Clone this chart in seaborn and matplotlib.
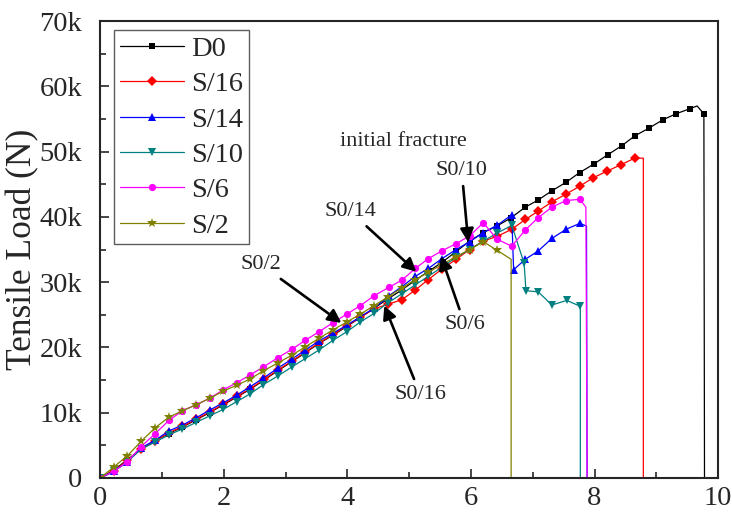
import numpy as np
import pandas as pd
import seaborn as sns
import matplotlib.pyplot as plt
from matplotlib.ticker import FuncFormatter, MultipleLocator

# Datos (desplazamiento, carga en kN)
x_d0 = [0, 0.22, 0.44, 0.66, 0.89, 1.11, 1.33, 1.55, 1.77, 1.99, 2.21, 2.43, 2.65, 2.87, 3.10, 3.32, 3.54, 3.77,
        3.99, 4.21, 4.43, 4.65, 4.88, 5.10, 5.32, 5.54, 5.76, 5.98, 6.20, 6.42, 6.64, 6.88, 7.09, 7.31, 7.54, 7.76,
        7.99, 8.21, 8.44, 8.65, 8.88, 9.11, 9.32, 9.55, 9.77, 9.78]
y_d0 = [0, 1.2, 2.8, 4.4, 5.7, 6.8, 7.8, 8.9, 10.0, 11.2, 12.4, 13.6, 15.0, 16.4, 17.8, 19.2, 20.6, 21.9,
        23.2, 24.6, 26.0, 27.4, 28.8, 30.3, 31.7, 33.1, 34.7, 36.3, 37.6, 38.6, 39.8, 41.5, 42.6, 44.0, 45.3, 46.8,
        48.1, 49.5, 50.9, 52.4, 53.6, 54.9, 55.8, 56.6, 55.8, 0]
pico_d0 = (9.66, 57.0)   # vertice sin marcador entre 9.55 y 9.77
x_d0.insert(-2, pico_d0[0])
y_d0.insert(-2, pico_d0[1])

x_s16 = [0, 0.22, 0.44, 0.66, 0.89, 1.11, 1.33, 1.55, 1.77, 1.99, 2.21, 2.43, 2.65, 2.87, 3.10, 3.32, 3.54, 3.77,
         3.99, 4.21, 4.43, 4.65, 4.88, 5.10, 5.31, 5.53, 5.76, 5.98, 6.20, 6.42, 6.66, 6.88, 7.09, 7.31, 7.54, 7.76,
         7.98, 8.20, 8.43, 8.65, 8.79, 8.79]
y_s16 = [0, 1.1, 2.7, 4.4, 5.7, 6.9, 7.9, 9.0, 10.1, 11.3, 12.5, 13.7, 15.1, 16.5, 17.9, 19.3, 20.7, 22.0,
         23.3, 24.6, 25.9, 26.6, 27.3, 28.8, 30.4, 32.0, 33.5, 35.0, 36.3, 37.0, 38.1, 39.6, 40.9, 42.3, 43.5, 44.7,
         46.0, 47.0, 48.0, 49.0, 49.0, 0]

x_s14 = [0, 0.22, 0.44, 0.66, 0.89, 1.11, 1.33, 1.55, 1.77, 1.99, 2.21, 2.43, 2.64, 2.87, 3.10, 3.32, 3.54, 3.77,
         3.99, 4.21, 4.43, 4.67, 4.88, 5.10, 5.31, 5.53, 5.76, 5.98, 6.20, 6.42, 6.66, 6.69, 6.88, 7.09, 7.31, 7.54,
         7.76, 7.87, 7.88]
y_s14 = [0, 1.0, 2.5, 4.6, 5.8, 7.2, 8.1, 9.2, 10.4, 11.5, 12.7, 14.0, 15.3, 16.8, 18.2, 19.6, 21.0, 22.2,
         23.4, 24.7, 26.0, 27.9, 29.3, 30.9, 32.1, 33.6, 35.0, 36.2, 37.6, 38.7, 40.3, 31.9, 33.5, 34.8, 36.7, 38.1,
         39.0, 38.6, 0]

x_s10 = [0, 0.22, 0.44, 0.66, 0.89, 1.11, 1.33, 1.55, 1.77, 1.99, 2.21, 2.43, 2.64, 2.87, 3.10, 3.32, 3.54, 3.77,
         3.99, 4.21, 4.43, 4.65, 4.88, 5.10, 5.31, 5.53, 5.76, 5.98, 6.20, 6.42, 6.66, 6.86, 6.89, 7.09, 7.31, 7.55,
         7.77, 7.77]
y_s10 = [0, 1.0, 2.5, 4.4, 5.5, 6.6, 7.5, 8.5, 9.5, 10.5, 11.7, 12.9, 14.3, 15.6, 17.0, 18.3, 19.6, 21.1,
         22.4, 23.9, 25.2, 26.8, 28.2, 29.6, 30.9, 32.3, 33.8, 35.0, 36.3, 37.5, 38.7, 32.9, 28.7, 28.5, 26.5, 27.2,
         26.3, 0]

x_s6 = [0, 0.22, 0.44, 0.66, 0.89, 1.11, 1.33, 1.55, 1.77, 1.99, 2.21, 2.43, 2.64, 2.87, 3.10, 3.32, 3.54, 3.77,
        3.99, 4.21, 4.43, 4.67, 4.88, 5.10, 5.31, 5.53, 5.76, 5.98, 6.20, 6.42, 6.66, 6.88, 7.09, 7.31, 7.54, 7.76,
        7.86, 7.88]
y_s6 = [0, 1.0, 2.5, 4.8, 6.8, 8.8, 10.3, 11.2, 12.2, 13.5, 14.6, 15.8, 17.0, 18.4, 19.7, 21.1, 22.4, 23.8,
        25.1, 26.4, 27.9, 29.2, 30.3, 32.1, 33.6, 34.8, 35.9, 37.1, 39.1, 36.6, 35.5, 38.0, 39.9, 41.5, 42.5, 42.7,
        41.5, 0]

x_s2 = [0, 0.22, 0.44, 0.66, 0.89, 1.11, 1.33, 1.55, 1.77, 1.99, 2.21, 2.43, 2.64, 2.87, 3.10, 3.32, 3.54, 3.77,
        3.99, 4.21, 4.43, 4.65, 4.88, 5.10, 5.31, 5.53, 5.76, 5.98, 6.20, 6.42, 6.65, 6.65]
y_s2 = [0, 1.7, 3.4, 5.6, 7.7, 9.3, 10.3, 11.2, 12.2, 13.3, 14.2, 15.2, 16.4, 17.6, 18.8, 20.1, 21.4, 22.7,
        23.9, 25.1, 26.4, 27.7, 29.1, 30.4, 31.5, 32.7, 33.9, 35.0, 36.2, 34.9, 33.5, 0]

series = ['D0', 'S/16', 'S/14', 'S/10', 'S/6', 'S/2']
xs = [x_d0, x_s16, x_s14, x_s10, x_s6, x_s2]
ys = [y_d0, y_s16, y_s14, y_s10, y_s6, y_s2]
colores = ['black', '#ff0000', '#0000ff', '#008080', '#ff00ff', '#808000']
marcadores = ['s', 'D', '^', 'v', 'o', '*']
tamanos = [4.6, 4.6, 5.6, 5.6, 5.2, 7]
sin_marca = [1, 2, 2, 1, 2, 2]   # puntos finales (caida) sin marcador

sns.set_theme(style='ticks')
plt.rcParams['font.family'] = ['Liberation Serif', 'DejaVu Serif']

fig, ax = plt.subplots(figsize=(7.32, 5.15), dpi=100)
fig.subplots_adjust(left=0.137, right=0.981, bottom=0.072, top=0.959)

for nombre, x, y, c, m, ms, k in zip(series, xs, ys, colores, marcadores, tamanos, sin_marca):
    df = pd.DataFrame({'x': x, 'y': np.array(y) * 1000})
    idx = [i for i in range(len(x) - k) if not (nombre == 'D0' and x[i] == pico_d0[0])]
    sns.lineplot(data=df, x='x', y='y', ax=ax, sort=False, estimator=None, color=c, lw=0.9,
                 marker=m, markersize=ms, markeredgewidth=0, markevery=idx, label=nombre)

ax.set_xlim(0, 10)
ax.set_ylim(0, 70000)
ax.xaxis.set_major_locator(MultipleLocator(2))
ax.xaxis.set_minor_locator(MultipleLocator(1))
ax.yaxis.set_major_locator(MultipleLocator(10000))
ax.yaxis.set_minor_locator(MultipleLocator(5000))
ax.yaxis.set_major_formatter(FuncFormatter(lambda v, p: '0' if v == 0 else '%dk' % (v / 1000)))
ax.tick_params(which='major', direction='in', length=6.5, width=1.2, labelsize=20.5)
ax.tick_params(which='minor', direction='in', length=4.5, width=1.2)
ax.tick_params(axis='y', which='major', pad=13)
ax.tick_params(axis='x', which='major', pad=6)
for s in ax.spines.values():
    s.set_linewidth(1.5)
ax.set_xlabel('')
ax.set_ylabel('Tensile Load (N)', fontsize=25.5, labelpad=0)

leg = ax.legend(loc='upper left', fontsize=20.5, frameon=True, fancybox=False, edgecolor='#333333',
                handlelength=2.25, borderpad=0.2, labelspacing=0.33, handletextpad=0.25,
                borderaxespad=0, bbox_to_anchor=(0.0227, 0.980))
leg.get_frame().set_linewidth(1.0)

ax.text(4.9, 51500, 'initial fracture', fontsize=16, ha='center', va='center')

flecha = dict(arrowstyle='-|>', color='black', lw=1.9, mutation_scale=20)
ax.annotate('S0/2', xy=(3.94, 23500), xytext=(2.6, 32700), fontsize=16, ha='center', va='center', arrowprops=flecha)
ax.annotate('S0/14', xy=(5.15, 31300), xytext=(4.05, 40800), fontsize=16, ha='center', va='center', arrowprops=flecha)
ax.annotate('S0/10', xy=(5.96, 35700), xytext=(5.85, 47100), fontsize=16, ha='center', va='center', arrowprops=flecha)
ax.annotate('S0/6', xy=(5.50, 34400), xytext=(5.9, 23500), fontsize=16, ha='center', va='center', arrowprops=flecha)
ax.annotate('S0/16', xy=(4.58, 26800), xytext=(5.18, 12800), fontsize=16, ha='center', va='center', arrowprops=flecha)

plt.savefig('out.png', dpi=100)
